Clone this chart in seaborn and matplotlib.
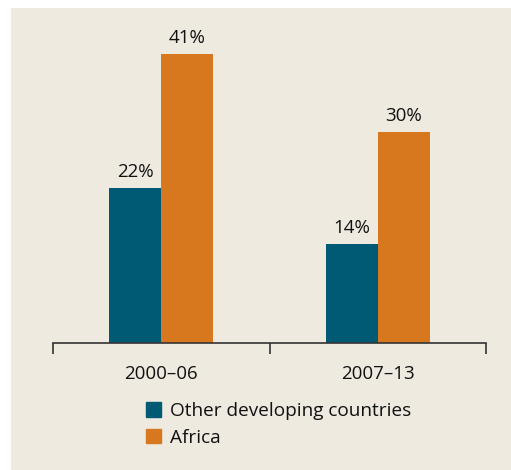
import pandas as pd
import matplotlib.pyplot as plt
import seaborn as sns
from matplotlib.patches import Rectangle

periods = ["2000–06", "2007–13"]
groups = ["Other developing countries", "Africa"]
other_vals = [22, 14]
africa_vals = [41, 30]

df = pd.DataFrame({
    "period": periods * 2,
    "group": [groups[0]] * 2 + [groups[1]] * 2,
    "share": other_vals + africa_vals,
})

sns.set_style("white")
plt.rcParams["font.family"] = ["Open Sans", "DejaVu Sans"]

bg = "#eeeae0"
ink = "#111111"
palette = {groups[0]: "#005a73", groups[1]: "#d8781e"}

fig = plt.figure(figsize=(5.11, 4.70), dpi=100)
fig.patch.set_facecolor("white")
# beige panel with white strip at left/top
fig.patches.append(Rectangle((11 / 511, 0), 1, 1 - 8 / 470, transform=fig.transFigure,
                             facecolor=bg, edgecolor="none", zorder=-1))

ax = fig.add_axes([53 / 511, 127 / 470, 433 / 511, 331 / 470])
ax.set_facecolor("none")

sns.barplot(data=df, x="period", y="share", hue="group", hue_order=groups,
            palette=palette, width=0.48, gap=0, saturation=1, linewidth=0,
            ax=ax, legend=False)

for c in ax.containers:
    ax.bar_label(c, fmt="%g%%", padding=5, fontsize=13.5, color=ink)

ax.set_xlim(-0.5, 1.5)
ax.set_ylim(0, 47)
ax.set_xlabel("")
ax.set_ylabel("")
ax.set_yticks([])
for s in ["top", "right", "left"]:
    ax.spines[s].set_visible(False)
ax.spines["bottom"].set_color("#333333")
ax.spines["bottom"].set_linewidth(1.2)

ax.set_xticks([-0.5, 0.5, 1.5], minor=True)
ax.tick_params(axis="x", which="minor", direction="out", length=8, width=1.2,
               color="#333333", bottom=True)
ax.tick_params(axis="x", which="major", length=0, pad=16, labelsize=13.5,
               labelcolor=ink)

handles = [Rectangle((0, 0), 1, 1, color=palette[g]) for g in groups]
fig.legend(handles, groups, loc="upper left", bbox_to_anchor=(146 / 511, 1 - 402 / 470),
           frameon=False, fontsize=13.7, handlelength=0.8, handleheight=0.8,
           handletextpad=0.45, labelspacing=0.45, borderaxespad=0, borderpad=0,
           labelcolor=ink)

fig.savefig("out.png", dpi=100, facecolor=fig.get_facecolor())
